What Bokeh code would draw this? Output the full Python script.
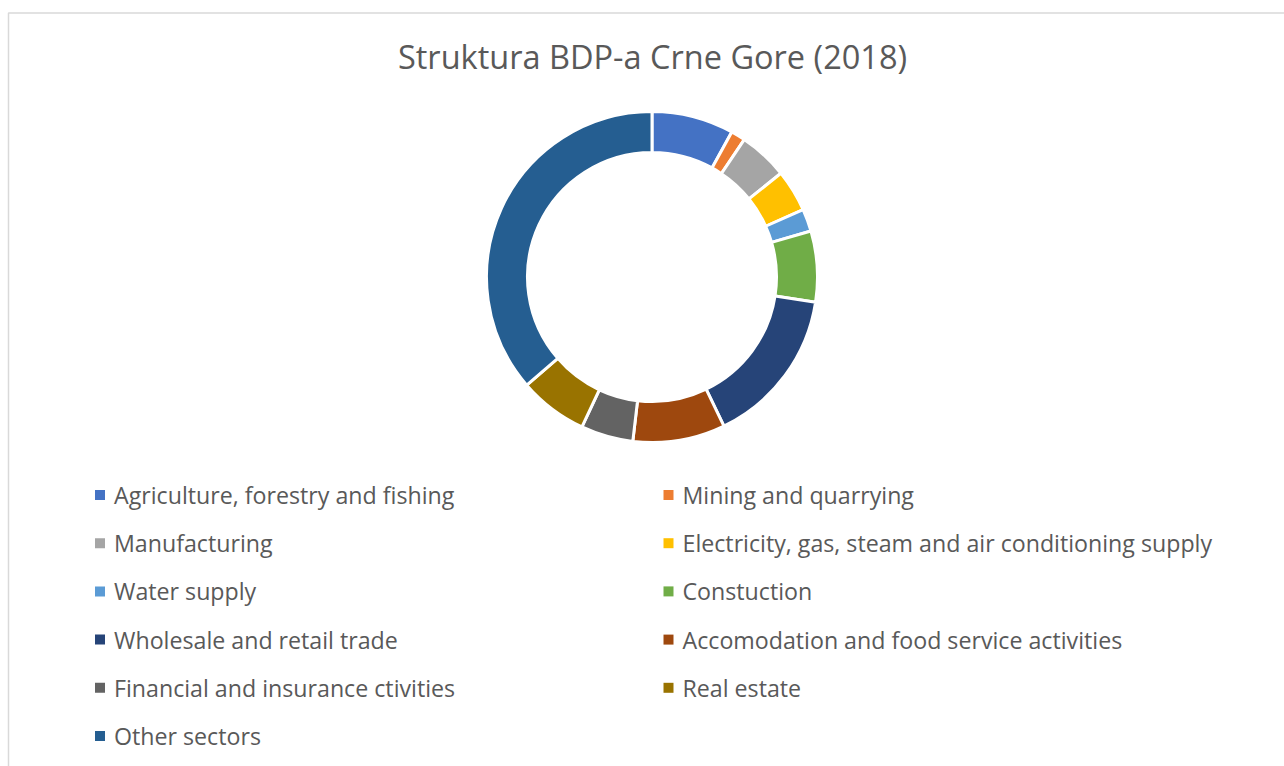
import numpy as np
from bokeh.plotting import figure
from bokeh.models import ColumnDataSource, Range1d
from bokeh.core.properties import value
from bokeh.embed import file_html
from bokeh.resources import INLINE

title_text = "Struktura BDP-a Crne Gore (2018)"
sectors = [
    "Agriculture, forestry and fishing",
    "Mining and quarrying",
    "Manufacturing",
    "Electricity, gas, steam and air conditioning supply",
    "Water supply",
    "Constuction",
    "Wholesale and retail trade",
    "Accomodation and food service activities",
    "Financial and insurance ctivities",
    "Real estate",
    "Other sectors",
]
shares = [8.0, 1.4, 4.8, 4.1, 2.2, 6.9, 15.4, 9.0, 5.1, 6.7, 36.3]
colors = ["#4472C4", "#ED7D31", "#A5A5A5", "#FFC000", "#5B9BD5", "#70AD47",
          "#264478", "#9E480E", "#636363", "#997300", "#255E91"]

W, H = 1284, 766
FONT = "Open Sans"
TXT = "#595959"

def sy(y):  # screen y -> data y
    return H - y

def sx(x):
    return x

p = figure(width=W, height=H, output_backend="svg", toolbar_location=None,
           x_range=Range1d(0, W), y_range=Range1d(0, H), min_border=0,
           outline_line_color=None, background_fill_color="white")
p.axis.visible = False
p.grid.visible = False

# chart area border (extends beyond window on right/bottom)
p.line([sx(8), sx(8), W + 20], [-20, sy(12.5), sy(12.5)],
       line_color="#D9D9D9", line_width=1.5)

# donut
vals = np.array(shares, dtype=float)
frac = vals / vals.sum()
cum = np.concatenate([[0], np.cumsum(frac)])
start = np.pi / 2 - cum[1:] * 2 * np.pi
end = np.pi / 2 - cum[:-1] * 2 * np.pi
src = ColumnDataSource(dict(start=start, end=end, color=colors, name=sectors))
p.annular_wedge(x=sx(651.5), y=sy(276.5), inner_radius=124.5, outer_radius=165.5,
                start_angle="start", end_angle="end", direction="anticlock",
                fill_color="color", line_color="white", line_width=3, source=src)

# title
p.text(x=[sx(652)], y=[sy(56)], text=[title_text], text_font=value(FONT),
       text_font_size="32.5px", text_color=TXT, text_align="center",
       text_baseline="middle")

# legend (two columns)
n = len(sectors)
rows = np.arange(n) // 2
cols = np.arange(n) % 2
lx_sq = np.where(cols == 0, sx(99.5), sx(668))
lx_tx = np.where(cols == 0, sx(113.5), sx(682))
ly = sy(494.5 + rows * 48.2)
lsrc = ColumnDataSource(dict(xs=lx_sq, xt=lx_tx, y=ly, color=colors, name=sectors))
p.scatter(x="xs", y="y", marker="square", size=10, fill_color="color",
          line_color=None, source=lsrc)
p.text(x="xt", y="y", text="name", text_font=value(FONT), text_font_size="23.2px",
       text_color=TXT, text_align="left", text_baseline="middle", source=lsrc)

open("out.html", "w").write(file_html(p, INLINE))
